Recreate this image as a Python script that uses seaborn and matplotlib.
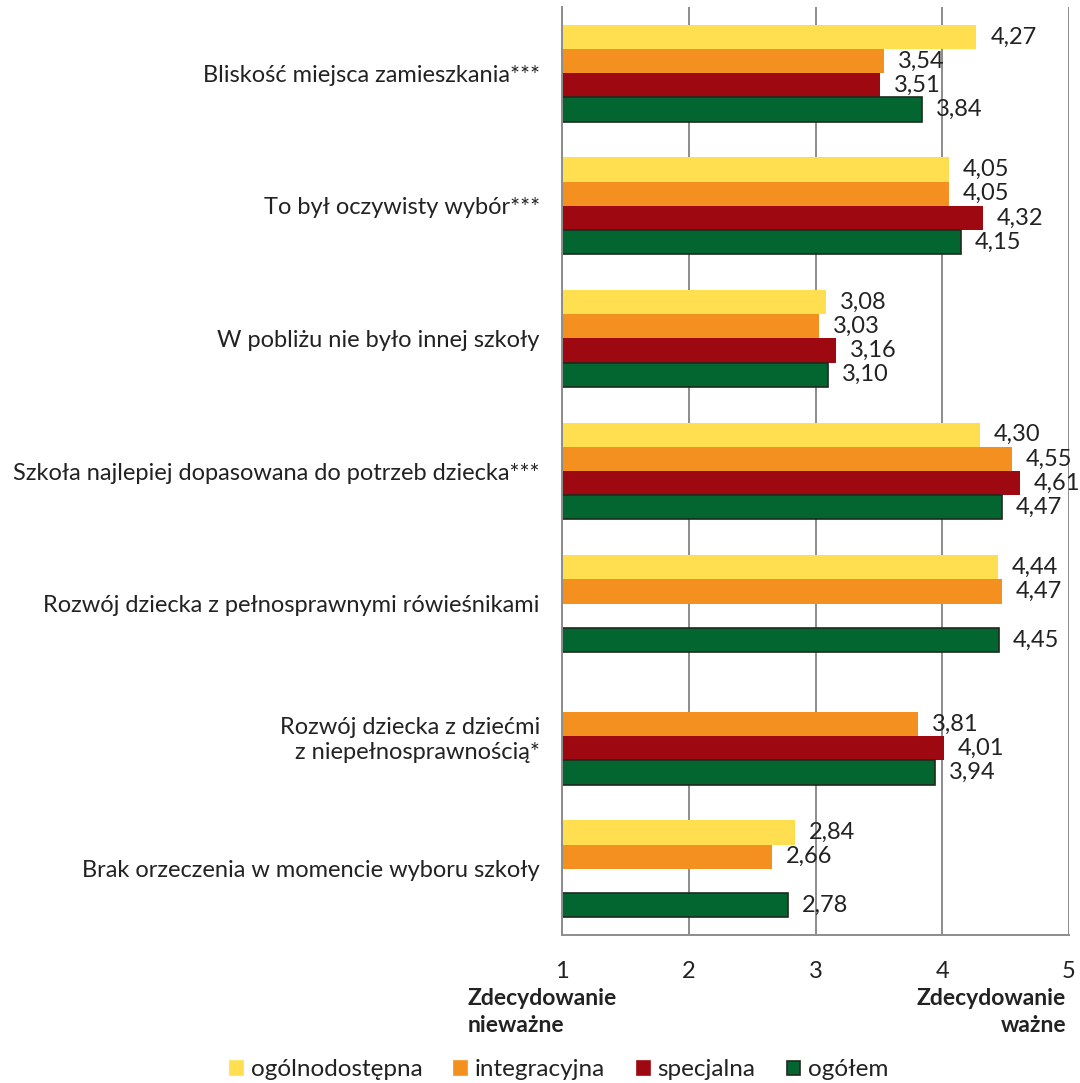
import numpy as np
import pandas as pd
import matplotlib
matplotlib.use("Agg")
import matplotlib.pyplot as plt
from matplotlib.patches import Patch
import seaborn as sns

categories = [
    "Bliskość miejsca zamieszkania***",
    "To był oczywisty wybór***",
    "W pobliżu nie było innej szkoły",
    "Szkoła najlepiej dopasowana do potrzeb dziecka***",
    "Rozwój dziecka z pełnosprawnymi rówieśnikami",
    "Rozwój dziecka z dziećmi\nz niepełnosprawnością*",
    "Brak orzeczenia w momencie wyboru szkoły",
]
series_names = ["ogólnodostępna", "integracyjna", "specjalna", "ogółem"]
ogolnodostepna = [4.27, 4.05, 3.08, 4.30, 4.44, np.nan, 2.84]
integracyjna = [3.54, 4.05, 3.03, 4.55, 4.47, 3.81, 2.66]
specjalna = [3.51, 4.32, 3.16, 4.61, np.nan, 4.01, np.nan]
ogolem = [3.84, 4.15, 3.10, 4.47, 4.45, 3.94, 2.78]
x_ticks = [1, 2, 3, 4, 5]
colors = ["#FFDF4F", "#F39020", "#9E0810", "#036630"]

rows = []
for name, vals in zip(series_names, [ogolnodostepna, integracyjna, specjalna, ogolem]):
    for cat, v in zip(categories, vals):
        rows.append({"kategoria": cat, "typ": name, "ocena": v})
df = pd.DataFrame(rows)

sns.set_style("white")
plt.rcParams["font.family"] = ["Lato", "DejaVu Sans"]

fig = plt.figure(figsize=(10.8, 10.83), dpi=100)
ax = fig.add_axes([562 / 1080, 1 - 935 / 1083, (1069 - 562) / 1080, (935 - 7) / 1083])

sns.barplot(data=df, y="kategoria", x="ocena", hue="typ", order=categories,
            hue_order=series_names, palette=colors, width=0.73, orient="h",
            saturation=1, legend=False, ax=ax, linewidth=0)

for cont, name in zip(ax.containers, series_names):
    for bar in cont:
        if name == "ogółem":
            bar.set_edgecolor("#1f2a1f")
            bar.set_linewidth(1.2)
    labels = []
    for bar in cont:
        w = bar.get_width()
        labels.append("" if np.isnan(w) else f"{w:.2f}".replace(".", ","))
    ax.bar_label(cont, labels=labels, padding=10, fontsize=17, color="#222222")

ax.set_xlim(1, 5)
ax.set_ylim(len(categories) - 0.5, -0.5)
ax.set_xticks(x_ticks)
ax.set_xticklabels([str(t) for t in x_ticks], fontsize=17, color="#222222")
ax.tick_params(axis="x", direction="out", length=8, width=1.3, color="#8c8c8c", pad=11)
ax.xaxis.grid(True, color="#8c8c8c", linewidth=1.4)
ax.set_axisbelow(True)

ax.set_yticks(range(len(categories)))
ax.set_yticklabels(categories, fontsize=17, color="#222222", ha="right",
                   multialignment="right")
ax.tick_params(axis="y", which="major", length=0, pad=16)
ax.set_yticks(np.arange(-0.5, len(categories), 1.0), minor=True)
ax.tick_params(axis="y", which="minor", direction="out", length=7, width=1.3, color="#8c8c8c")

for s in ["top", "right"]:
    ax.spines[s].set_visible(False)
for s in ["left", "bottom"]:
    ax.spines[s].set_color("#8c8c8c")
    ax.spines[s].set_linewidth(1.4)
ax.set_xlabel("")
ax.set_ylabel("")

fig.text(468 / 1080, 1 - 988 / 1083, "Zdecydowanie\nnieważne", ha="left", va="top",
         fontsize=16.5, fontweight="bold", color="#222222", linespacing=1.35)
fig.text(1066 / 1080, 1 - 988 / 1083, "Zdecydowanie\nważne", ha="right", va="top",
         fontsize=16.5, fontweight="bold", color="#222222", linespacing=1.35,
         multialignment="right")

handles = [Patch(facecolor=c, edgecolor=("#1f2a1f" if n == "ogółem" else c), linewidth=1.2)
           for c, n in zip(colors, series_names)]
fig.legend(handles, series_names, loc="center", bbox_to_anchor=(559 / 1080, 1 - 1070 / 1083),
           ncol=4, frameon=False, fontsize=17.5, handlelength=0.55, handleheight=0.55,
           handletextpad=0.3, columnspacing=1.3, labelcolor="#222222")

fig.savefig("out.png", dpi=100)
